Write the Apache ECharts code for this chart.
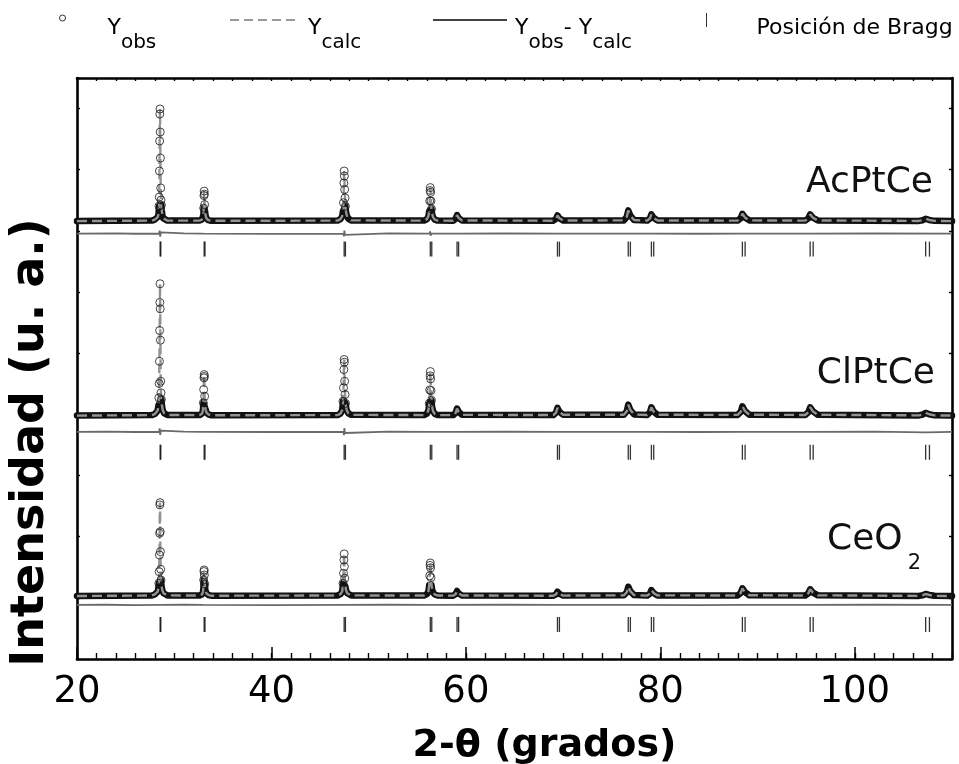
<!DOCTYPE html>
<html><head><meta charset="utf-8">
<script src="https://cdn.jsdelivr.net/npm/echarts@6/dist/echarts.min.js"></script>
<style>html,body{margin:0;padding:0;background:#fff}#c{width:959px;height:764px}</style>
</head><body><div id="c"></div>
<script>
// ---------- data ----------
const xTickLabels = [20, 40, 60, 80, 100];
const patternLabels = ['AcPtCe', 'ClPtCe', 'CeO2'];
const obsOffsets = [7160, 3980, 1030];      // vertical offset of each pattern
const diffOffsets = [6956, 3715, 884];      // offset of each Yobs-Ycalc curve
const braggRows = [6702, 3380, 565];        // level of each row of Bragg marks
const braggKa1 = [28.55, 33.08, 47.48, 56.34, 59.09, 69.42, 76.70, 79.08, 88.44, 95.41, 107.29];
const braggKa2 = [28.62, 33.16, 47.61, 56.49, 59.25, 69.62, 76.92, 79.32, 88.72, 95.72, 107.68];

const obsAcPtCe = [[20,0],
[27.70,8],[28.00,25],[28.20,49],[28.30,65],[28.36,98],[28.40,147],[28.43,246],[28.46,393],[28.48,819],[28.50,1310],[28.52,1752],[28.54,1833],[28.56,1457],[28.58,1031],[28.61,540],[28.64,344],[28.68,262],[28.72,180],[28.78,98],[28.86,49],[29.00,25],[29.30,8],
[32.60,8],[32.85,25],[32.95,49],[33.00,98],[33.03,213],[33.06,417],[33.08,491],[33.10,442],[33.13,270],[33.17,164],[33.22,98],[33.30,49],[33.50,16],[33.80,5],
[46.80,8],[47.10,33],[47.28,82],[47.36,164],[47.41,300],[47.45,622],[47.48,819],[47.50,737],[47.53,516],[47.57,380],[47.61,243],[47.66,164],[47.74,98],[47.90,41],[48.20,12],
[55.70,8],[56.00,33],[56.15,82],[56.23,164],[56.28,330],[56.32,500],[56.34,548],[56.37,470],[56.41,330],[56.46,200],[56.53,120],[56.62,65],[56.80,25],[57.10,8],
[58.70,7],[58.95,40],[59.09,98],[59.27,50],[59.60,10],
[69.00,7],[69.27,37],[69.42,93],[69.62,47],[70.00,9],
[76.25,12],[76.55,70],[76.70,175],[76.92,88],[77.30,17],
[78.65,8],[78.93,44],[79.08,110],[79.30,55],[79.70,11],
[87.95,8],[88.27,48],[88.44,120],[88.70,60],[89.15,12],
[94.90,8],[95.22,44],[95.41,110],[95.70,55],[96.20,11],
[106.60,3],[107.00,15],[107.29,38],[107.65,19],[108.20,4],
[110,0]];

const obsClPtCe = [[20,0],
[27.70,8],[28.00,25],[28.20,49],[28.30,82],[28.37,164],[28.42,290],[28.45,525],[28.48,888],[28.50,1392],[28.52,1850],[28.54,2156],[28.56,1746],[28.58,1233],[28.61,562],[28.64,372],[28.68,262],[28.74,164],[28.82,90],[28.95,41],[29.30,10],
[32.60,8],[32.85,30],[32.95,82],[33.00,208],[33.03,426],[33.06,617],[33.08,671],[33.10,640],[33.13,316],[33.17,180],[33.23,100],[33.32,49],[33.55,16],[33.85,5],
[46.80,8],[47.10,33],[47.28,90],[47.36,234],[47.41,454],[47.45,753],[47.48,917],[47.50,873],[47.53,562],[47.57,344],[47.62,200],[47.68,130],[47.76,80],[47.92,35],[48.20,12],
[55.70,8],[56.00,33],[56.15,90],[56.23,200],[56.28,420],[56.32,650],[56.34,720],[56.37,600],[56.41,410],[56.46,250],[56.53,140],[56.62,75],[56.80,28],[57.10,8],
[58.70,8],[58.95,46],[59.09,115],[59.27,58],[59.60,12],
[69.00,9],[69.27,50],[69.42,126],[69.62,63],[70.00,13],
[76.25,13],[76.55,72],[76.70,180],[76.92,90],[77.30,18],
[78.65,10],[78.93,54],[79.08,136],[79.30,68],[79.70,14],
[87.95,11],[88.27,61],[88.44,152],[88.70,76],[89.15,15],
[94.90,10],[95.22,54],[95.41,136],[95.70,68],[96.20,14],
[106.60,3],[107.00,18],[107.29,44],[107.65,22],[108.20,4],
[110,0]];

const obsCeO2 = [[20,0],
[27.70,8],[28.00,25],[28.20,45],[28.30,70],[28.37,130],[28.42,208],[28.45,398],[28.48,671],[28.50,1026],[28.52,1490],[28.54,1527],[28.56,1052],[28.58,725],[28.61,437],[28.64,262],[28.70,160],[28.78,90],[28.90,45],[29.30,10],
[32.60,8],[32.85,25],[32.95,60],[33.00,130],[33.03,262],[33.06,400],[33.08,426],[33.10,344],[33.14,196],[33.20,100],[33.30,45],[33.55,14],[33.85,5],
[46.80,8],[47.10,30],[47.28,75],[47.36,208],[47.41,372],[47.45,590],[47.48,688],[47.50,480],[47.54,290],[47.60,160],[47.68,95],[47.80,45],[48.20,10],
[55.70,8],[56.00,30],[56.15,80],[56.23,180],[56.28,330],[56.32,500],[56.34,540],[56.37,460],[56.41,300],[56.46,180],[56.53,110],[56.62,60],[56.80,25],[57.10,8],
[58.70,6],[58.95,33],[59.09,82],[59.27,41],[59.60,8],
[69.00,5],[69.27,28],[69.42,70],[69.62,35],[70.00,7],
[76.25,11],[76.55,61],[76.70,152],[76.92,76],[77.30,15],
[78.65,7],[78.93,39],[79.08,98],[79.30,49],[79.70,10],
[87.95,9],[88.27,50],[88.44,126],[88.70,63],[89.15,13],
[94.90,8],[95.22,44],[95.41,110],[95.70,55],[96.20,11],
[106.60,2],[107.00,13],[107.29,33],[107.65,17],[108.20,3],
[110,0]];

const diffAcPtCe = [[20,0],[24,4],[26,-3],[28.45,0],[28.50,50],[28.56,-50],[28.62,20],[28.70,0],[31,3],[33.00,0],[33.06,25],[33.11,-25],[33.18,0],[40,-4],[47.40,0],[47.46,-45],[47.50,50],[47.56,-20],[47.64,0],[52,3],[56.26,0],[56.32,35],[56.37,-35],[56.45,0],[59.05,0],[59.10,-12],[59.16,0],[64,3],[69.35,0],[69.42,-16],[69.50,0],[76.62,0],[76.70,16],[76.78,0],[79.02,0],[79.08,-10],[79.15,0],[84,-3],[88.36,0],[88.44,-16],[88.52,0],[95.35,0],[95.41,10],[95.48,0],[102,3],[110,0]];
const diffClPtCe = [[20,0],[23,3],[26,-3],[28.45,0],[28.50,55],[28.56,-50],[28.62,20],[28.70,0],[31,3],[33.00,0],[33.06,30],[33.11,-30],[33.18,0],[40,-3],[47.40,0],[47.46,-55],[47.50,60],[47.56,-20],[47.64,0],[52,3],[56.26,0],[56.32,30],[56.37,-30],[56.45,0],[59.05,0],[59.10,-10],[59.16,0],[64,3],[69.35,0],[69.42,-14],[69.50,0],[76.62,0],[76.70,-14],[76.78,0],[79.02,0],[79.08,-12],[79.15,0],[84,-3],[88.36,0],[88.44,-16],[88.52,0],[95.35,0],[95.41,-10],[95.48,0],[102,3],[107.29,-8],[110,0]];
const diffCeO2 = [[20,0],[23,3],[26,-3],[28.45,0],[28.50,25],[28.56,-25],[28.62,10],[28.70,0],[31,3],[33.00,0],[33.06,15],[33.11,-15],[33.18,0],[40,-3],[47.40,0],[47.46,-20],[47.50,22],[47.56,-10],[47.64,0],[52,3],[56.26,0],[56.32,20],[56.37,-22],[56.45,0],[64,3],[69.35,0],[69.42,-10],[69.50,0],[76.62,0],[76.70,-14],[76.78,0],[84,-3],[88.36,0],[88.44,-12],[88.52,0],[95.35,0],[95.41,-8],[95.48,0],[102,3],[110,0]];

const obsSets = [obsAcPtCe, obsClPtCe, obsCeO2];
const diffSets = [diffAcPtCe, diffClPtCe, diffCeO2];

// ---------- chart ----------
const FONT = 'DejaVu Sans';
const BAND_MAX = 265, CIRCLE_MIN = 190;
const series = [];
obsSets.forEach((obs, i) => {
  const off = obsOffsets[i];
  series.push({
    name: 'Yobs (banda)', type: 'line', xAxisIndex: 0, yAxisIndex: 0, z: 2,
    data: obs.filter(p => p[1] <= BAND_MAX).map(p => [p[0], p[1] + off]),
    symbol: 'none', clip: false, silent: true,
    lineStyle: { color: '#111', width: 6.5, cap: 'round', join: 'round' }
  });
  series.push({
    name: 'Yobs - Ycalc', type: 'line', xAxisIndex: 0, yAxisIndex: 0, z: 2,
    data: diffSets[i].map(p => [p[0], p[1] + diffOffsets[i]]),
    symbol: 'none', silent: true,
    itemStyle: { color: '#555' },
    lineStyle: { color: '#6a6a6a', width: 1.8 }
  });
  series.push({
    name: 'Ycalc', type: 'line', xAxisIndex: 0, yAxisIndex: 0, z: 3,
    data: obs.map(p => [p[0], p[1] + off]),
    symbol: 'none', clip: false, silent: true,
    itemStyle: { color: '#999' },
    lineStyle: { color: '#939393', width: 2.4, type: [10, 5] }
  });
  series.push({
    name: 'Yobs', type: 'scatter', xAxisIndex: 0, yAxisIndex: 0, z: 4,
    data: obs.filter(p => p[1] >= CIRCLE_MIN).map(p => [p[0], p[1] + off]),
    symbol: 'circle', symbolSize: 8, silent: true,
    itemStyle: { color: 'rgba(255,255,255,0)', borderColor: '#1a1a1a', borderWidth: 1 }
  });
  series.push({
    name: 'Posición de Bragg', type: 'scatter', xAxisIndex: 0, yAxisIndex: 0, z: 2,
    data: braggKa1.concat(braggKa2).map(x => [x, braggRows[i]]),
    symbol: 'rect', symbolSize: [1.3, 15], silent: true,
    itemStyle: { color: '#000' }
  });
});

const frameLine = { show: true, onZero: false, lineStyle: { color: '#000', width: 2.6 } };
const tinyTick = { show: true, inside: true, length: 3, lineStyle: { color: '#000', width: 1.4 } };

function sub(y0pad, ypad, spad) {
  return {
    y0: { fontFamily: FONT, fontSize: 22, lineHeight: 22, color: '#000', padding: y0pad },
    y: { fontFamily: FONT, fontSize: 22, lineHeight: 22, color: '#000', padding: ypad },
    s: { fontFamily: FONT, fontSize: 20, lineHeight: 20, color: '#000', padding: spad }
  };
}

const option = {
  animation: false,
  backgroundColor: '#fff',
  grid: [
    { left: 77, right: 7, top: 78, bottom: 105, containLabel: false, outerBoundsMode: 'none' },
    { left: 77, right: 7, top: 78, bottom: 105, containLabel: false, outerBoundsMode: 'none' }
  ],
  xAxis: [
    { type: 'value', gridIndex: 0, position: 'bottom', min: 20, max: 110, interval: 20,
      axisLine: frameLine,
      axisTick: { show: true, inside: true, length: 12, lineStyle: { color: '#000', width: 1.5 } },
      axisLabel: { show: true, showMaxLabel: false, margin: 15, fontFamily: FONT, fontSize: 37, color: '#000',
        formatter: v => (xTickLabels.indexOf(v) >= 0 ? String(v) : '') },
      splitLine: { show: false },
      name: '2-θ (grados)', nameLocation: 'middle', nameGap: 68,
      nameTextStyle: { fontFamily: FONT, fontSize: 38, fontWeight: 'bold', color: '#000', padding: [0, 0, 0, 60] } },
    { type: 'value', gridIndex: 0, position: 'top', min: 20, max: 110, interval: 2,
      axisLine: frameLine, axisTick: tinyTick, axisLabel: { show: false }, splitLine: { show: false } },
    { type: 'value', gridIndex: 1, position: 'bottom', min: 20, max: 110, interval: 2,
      axisLine: { show: false, onZero: false },
      axisTick: { show: true, inside: true, length: 6, lineStyle: { color: '#000', width: 1.4 } },
      axisLabel: { show: false }, splitLine: { show: false } }
  ],
  yAxis: [
    { type: 'value', gridIndex: 0, position: 'left', min: 0, max: 9500, interval: 1000,
      axisLine: frameLine, axisTick: tinyTick, axisLabel: { show: false }, splitLine: { show: false },
      name: 'Intensidad (u. a.)', nameLocation: 'middle', nameGap: 23,
      nameTextStyle: { fontFamily: FONT, fontSize: 46, fontWeight: 'bold', color: '#000', padding: [0, 148, 0, 0] } },
    { type: 'value', gridIndex: 0, position: 'right', min: 0, max: 9500, interval: 1000,
      axisLine: frameLine, axisTick: tinyTick, axisLabel: { show: false }, splitLine: { show: false } },
    { type: 'value', gridIndex: 1, min: 0, max: 9500, show: false }
  ],
  legend: [
    { data: [{ name: 'Yobs', icon: 'circle' }], left: 59, top: -17, padding: 0, selectedMode: false,
      itemWidth: 6, itemHeight: 6,
      itemStyle: { color: '#fff', borderColor: '#000', borderWidth: 1 },
      formatter: () => '{y0|Y}{s|obs}',
      textStyle: { rich: sub([34, 0, 14, 37], [34, 0, 14, 0], [50, 0, 0, 0]) } },
    { data: [{ name: 'Ycalc', icon: 'path://M0,0h9v2h-9z M14,0h9v2h-9z M28,0h9v2h-9z M42,0h9v2h-9z M56,0h9v2h-9z M61,0h9v0h-9z' }],
      left: 230, top: -13, padding: 0, selectedMode: false,
      itemWidth: 70, itemHeight: 2,
      itemStyle: { color: '#9a9a9a', borderWidth: 0 },
      formatter: () => '{y0|Y}{s|calc}',
      textStyle: { rich: sub([30, 0, 14, 3], [30, 0, 14, 0], [46, 0, 0, 0]) } },
    { data: [{ name: 'Yobs - Ycalc', icon: 'path://M0,0h74v2h-74z' }], left: 433, top: -13, padding: 0, selectedMode: false,
      itemWidth: 74, itemHeight: 2,
      itemStyle: { color: '#444', borderWidth: 0 },
      formatter: () => '{y0|Y}{s|obs}{y|- Y}{s|calc}',
      textStyle: { rich: sub([30, 0, 14, 3], [30, 0, 14, 0], [46, 0, 0, 0]) } },
    { data: [{ name: 'Posición de Bragg', icon: 'path://M0,0H1V14H0Z' }], left: 706, top: 1, padding: 0, selectedMode: false,
      itemWidth: 14, itemHeight: 14,
      itemStyle: { color: '#000', borderWidth: 0 },
      formatter: n => '{y0|' + n + '}',
      textStyle: { rich: sub([16, 0, 0, 38], [16, 0, 0, 0], [0, 0, 0, 0]) } }
  ],
  graphic: [
    { type: 'text', x: 933, y: 183, silent: true,
      style: { text: patternLabels[0], font: '36px "DejaVu Sans"', fill: '#111', align: 'right', verticalAlign: 'middle', textAlign: 'right', textVerticalAlign: 'middle' } },
    { type: 'text', x: 935, y: 374, silent: true,
      style: { text: patternLabels[1], font: '36px "DejaVu Sans"', fill: '#111', align: 'right', verticalAlign: 'middle', textAlign: 'right', textVerticalAlign: 'middle' } },
    { type: 'text', x: 921, y: 532, silent: true,
      style: { text: '{m|CeO}{s|2}', align: 'right', verticalAlign: 'top', textAlign: 'right', textVerticalAlign: 'top',
        rich: {
          m: { fontFamily: FONT, fontSize: 36, lineHeight: 40, fill: '#111', color: '#111', padding: [0, 0, 24, 0] },
          s: { fontFamily: FONT, fontSize: 21, lineHeight: 20, fill: '#111', color: '#111', padding: [34, 0, 10, 5] }
        } } }
  ],
  series: series
};

const chart = echarts.init(document.getElementById('c'), null, { renderer: 'canvas' });
chart.setOption(option);
</script>
</body></html>
